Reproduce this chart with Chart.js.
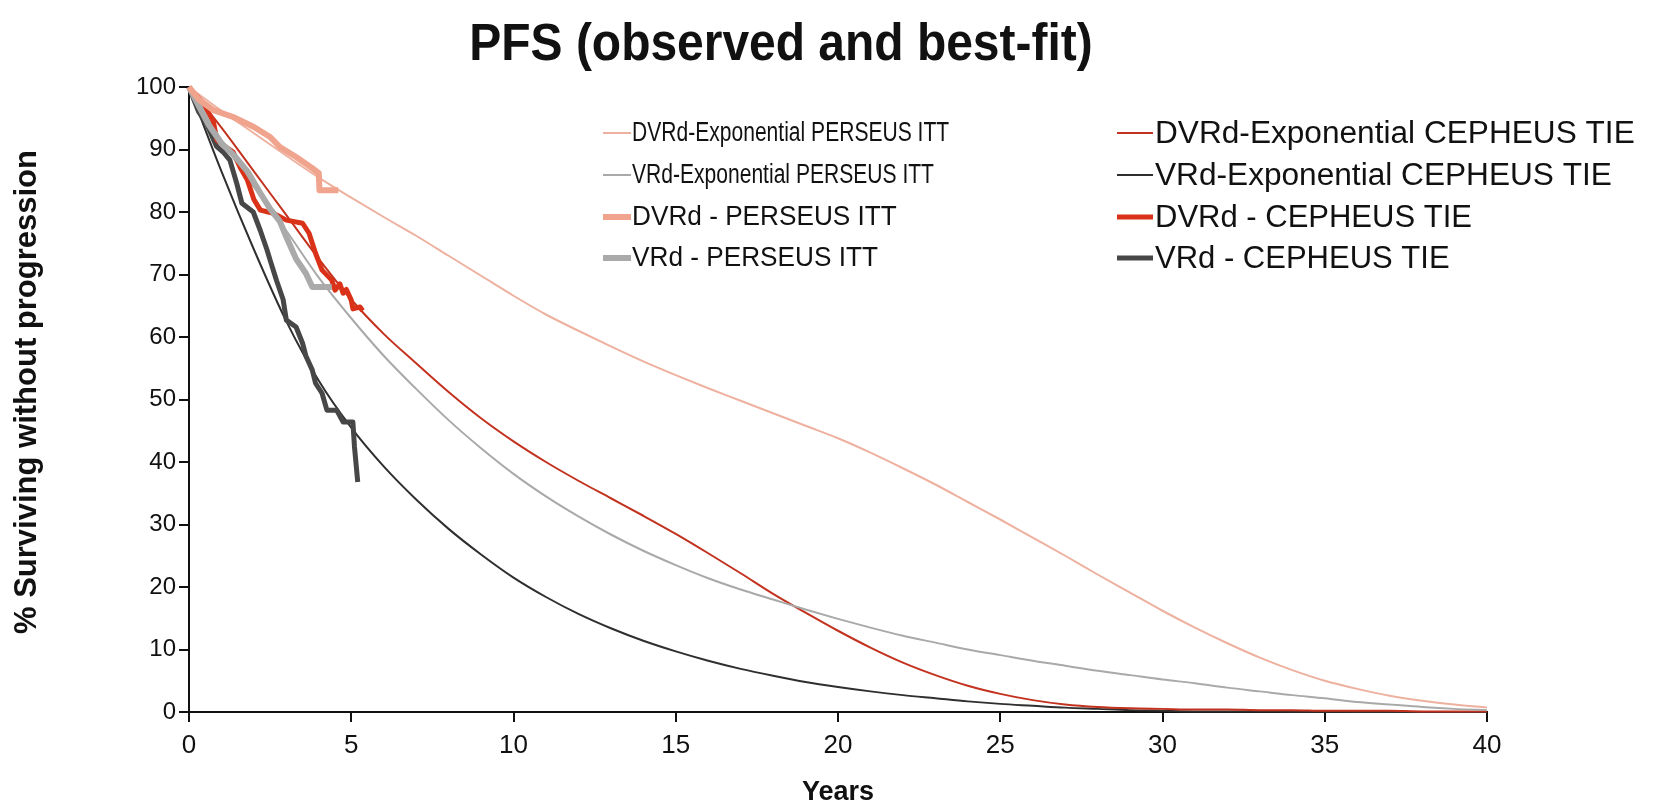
<!DOCTYPE html>
<html>
<head>
<meta charset="utf-8">
<script src="https://cdn.jsdelivr.net/npm/chart.js@4.4.1/dist/chart.umd.min.js"></script>
<style>
  html, body { margin: 0; padding: 0; background: #fff; }
  #wrap { width: 1668px; height: 809px; }
</style>
</head>
<body>
<div id="wrap"><canvas id="pfsChart" width="1668" height="809"></canvas></div>
<script>
// years used by the four fitted (exponential) curves
const fitYears = [0,1,2,3,4,5,6,7,8,9,10,11,12,13,14,15,16,17,18,19,20,
  21,22,23,24,25,26,27,28,29,30,31,32,33,34,35,36,37,38,39,40];

const fitDVRdPerseus = [100,96.2,92.6,89,85.5,82.3,79.2,76.2,73,69.8,66.6,63.6,61,58.5,56.1,53.9,51.8,49.8,47.8,45.8,43.8,
  41.5,39,36.4,33.6,30.8,27.9,25,22,19.1,16.2,13.5,11,8.7,6.7,5,3.7,2.6,1.8,1.2,0.7];
const fitVRdPerseus = [100,91.5,84,77,69.5,63,57,51.7,46.7,42.2,38.1,34.5,31.3,28.4,25.8,23.5,21.4,19.6,18,16.4,14.9,
  13.5,12.2,11.1,10,9.1,8.2,7.4,6.6,5.9,5.2,4.6,3.9,3.3,2.7,2.2,1.6,1.2,0.8,0.5,0.3];
const fitDVRdCepheus = [100,93.5,86.5,79.5,72.5,66,60.5,55.8,51.2,47,43.3,40,37,34.2,31.4,28.5,25.4,22.2,18.9,15.9,13,
  10.3,7.9,5.9,4.2,2.9,1.9,1.2,0.8,0.6,0.5,0.4,0.4,0.3,0.3,0.2,0.2,0.2,0.1,0.1,0.1];
const fitVRdCepheus = [100,86.5,74,62.5,53,45.5,39.3,34,29.3,25.2,21.5,18.4,15.7,13.4,11.4,9.7,8.2,6.9,5.8,4.8,4,
  3.3,2.7,2.2,1.7,1.3,1,0.7,0.5,0.3,0.2,0.1,0.1,0.1,0.05,0.05,0,0,0,0,0];

// observed curves (Kaplan-Meier)
const obsDVRdPerseusT = [0,0.3,0.75,1.36,2.0,2.5,2.8,3.3,3.8,4.0,4.02,4.6];
const obsDVRdPerseusS = [100,98,96.3,95.2,93.6,92,90.4,88.8,87,86.2,83.5,83.5];

const obsVRdPerseusT = [0,0.3,0.6,1.0,1.4,1.8,2.2,2.5,2.8,3.0,3.3,3.6,3.8,4.4];
const obsVRdPerseusS = [100,97,94,91,89,86.5,83,80.5,78.5,76,72.5,70.2,68,68];

const obsDVRdCepheusT = [0,0.15,0.43,0.75,0.86,1.05,1.36,1.57,1.8,2.0,2.2,2.6,3.0,3.5,3.7,3.9,4.1,4.4,4.5,4.65,4.75,4.85,5.0,5.05,5.27,5.35];
const obsDVRdCepheusS = [100,99,97.5,94.5,91.5,90.7,89.6,87.2,85.1,82,80.3,79.8,78.7,78.2,76.6,73.4,70.7,69.1,67.5,68.5,67,67.6,65.9,64.5,64.8,64.2];

const obsVRdCepheusT = [0,0.3,0.55,0.85,1.05,1.26,1.47,1.63,1.98,2.2,2.4,2.5,2.7,2.9,3.0,3.3,3.5,3.6,3.8,3.9,4.1,4.25,4.55,4.75,5.05,5.1,5.2];
const obsVRdCepheusS = [100,96,94,90.5,89.6,88.3,84.6,81.4,80,77,74,72.3,69,66,62.7,61.6,59,57,54.7,52.6,51,48.3,48.3,46.4,46.4,42.4,36.8];

const xTicks = [0,5,10,15,20,25,30,35,40];
const yTicks = [0,10,20,30,40,50,60,70,80,90,100];

const FONT = '"Liberation Sans", Arial, sans-serif';

function pts(xs, ys) {
  return xs.map((x, i) => ({ x: x, y: ys[i] }));
}

function fitSet(label, ys, color) {
  return {
    label: label, data: pts(fitYears, ys), borderColor: color, backgroundColor: color,
    borderWidth: 2, pointRadius: 0, cubicInterpolationMode: 'monotone', order: 2
  };
}
function obsSet(label, xs, ys, color, w) {
  return {
    label: label, data: pts(xs, ys), borderColor: color, backgroundColor: color,
    borderWidth: w, pointRadius: 0, tension: 0, order: 1, borderJoinStyle: 'round'
  };
}

const datasets = [
  fitSet('DVRd-Exponential PERSEUS ITT', fitDVRdPerseus, '#eeb19f'),
  fitSet('VRd-Exponential PERSEUS ITT', fitVRdPerseus, '#a9a9a9'),
  obsSet('DVRd - PERSEUS ITT', obsDVRdPerseusT, obsDVRdPerseusS, '#f0a38d', 6),
  obsSet('VRd - PERSEUS ITT', obsVRdPerseusT, obsVRdPerseusS, '#aaaaaa', 6),
  fitSet('DVRd-Exponential CEPHEUS TIE', fitDVRdCepheus, '#c3321f'),
  fitSet('VRd-Exponential CEPHEUS TIE', fitVRdCepheus, '#2f2f2f'),
  obsSet('DVRd - CEPHEUS TIE', obsDVRdCepheusT, obsDVRdCepheusS, '#da3218', 5),
  obsSet('VRd - CEPHEUS TIE', obsVRdCepheusT, obsVRdCepheusS, '#474747', 5)
];

// title, y-axis title and the two-column legend
const legendCols = [
  { lineX: 603, lineLen: 28, textX: 632, size: 27, squeeze: [0.78, 0.78, 0.97, 0.97] },
  { lineX: 1117, lineLen: 36, textX: 1155, size: 31, squeeze: [1.02, 1.02, 1, 1] }
];
const legendRows = [133, 175, 217, 258];

const overlay = {
  id: 'overlay',
  afterDraw(chart) {
    const ctx = chart.ctx;
    ctx.save();
    ctx.fillStyle = '#111';
    ctx.font = 'bold 51px ' + FONT;
    ctx.textAlign = 'center';
    ctx.textBaseline = 'alphabetic';
    ctx.save();
    ctx.translate(781, 60);
    ctx.scale(0.94, 1);
    ctx.fillText('PFS (observed and best-fit)', 0, 0);
    ctx.restore();

    ctx.save();
    ctx.translate(27, 392);
    ctx.rotate(-Math.PI / 2);
    ctx.font = 'bold 31px ' + FONT;
    ctx.textBaseline = 'middle';
    ctx.fillText('% Surviving without progression', 0, 0);
    ctx.restore();

    ctx.textAlign = 'left';
    ctx.textBaseline = 'middle';
    chart.data.datasets.forEach((ds, i) => {
      const col = legendCols[Math.floor(i / 4)];
      const row = i % 4;
      const y = legendRows[row];
      ctx.strokeStyle = ds.borderColor;
      ctx.lineWidth = ds.borderWidth;
      ctx.beginPath();
      ctx.moveTo(col.lineX, y);
      ctx.lineTo(col.lineX + col.lineLen, y);
      ctx.stroke();
      ctx.save();
      ctx.fillStyle = '#111';
      ctx.font = col.size + 'px ' + FONT;
      ctx.translate(col.textX, y + 1);
      ctx.scale(col.squeeze[row], 1);
      ctx.fillText(ds.label, 0, 0);
      ctx.restore();
    });
    ctx.restore();
  }
};

const axisStyle = {
  grid: { drawOnChartArea: false, drawTicks: true, tickLength: 10, color: '#111', lineWidth: 2 },
  border: { display: true, color: '#111', width: 2 }
};

new Chart(document.getElementById('pfsChart'), {
  type: 'scatter',
  data: { datasets: datasets },
  plugins: [overlay],
  options: {
    responsive: false,
    animation: false,
    devicePixelRatio: 1,
    showLine: true,
    clip: 4,
    layout: { padding: { left: 0, top: 87, right: 181, bottom: 0 } },
    plugins: { legend: { display: false }, title: { display: false }, tooltip: { enabled: false } },
    scales: {
      x: {
        type: 'linear', min: 0, max: 40,
        afterBuildTicks: s => { s.ticks = xTicks.map(v => ({ value: v })); },
        afterFit: s => { s.height = 97; },
        ticks: { color: '#111', font: { family: FONT, size: 26 }, padding: 8, maxRotation: 0 },
        title: { display: true, text: 'Years', color: '#111', font: { family: FONT, size: 27, weight: 'bold' }, padding: { top: 0, bottom: 0 } },
        ...axisStyle
      },
      y: {
        min: 0, max: 100,
        afterBuildTicks: s => { s.ticks = yTicks.map(v => ({ value: v })); },
        afterFit: s => { s.width = 189; },
        ticks: { color: '#111', font: { family: FONT, size: 24 }, padding: 3 },
        title: { display: false },
        ...axisStyle
      }
    }
  }
});
</script>
</body>
</html>
